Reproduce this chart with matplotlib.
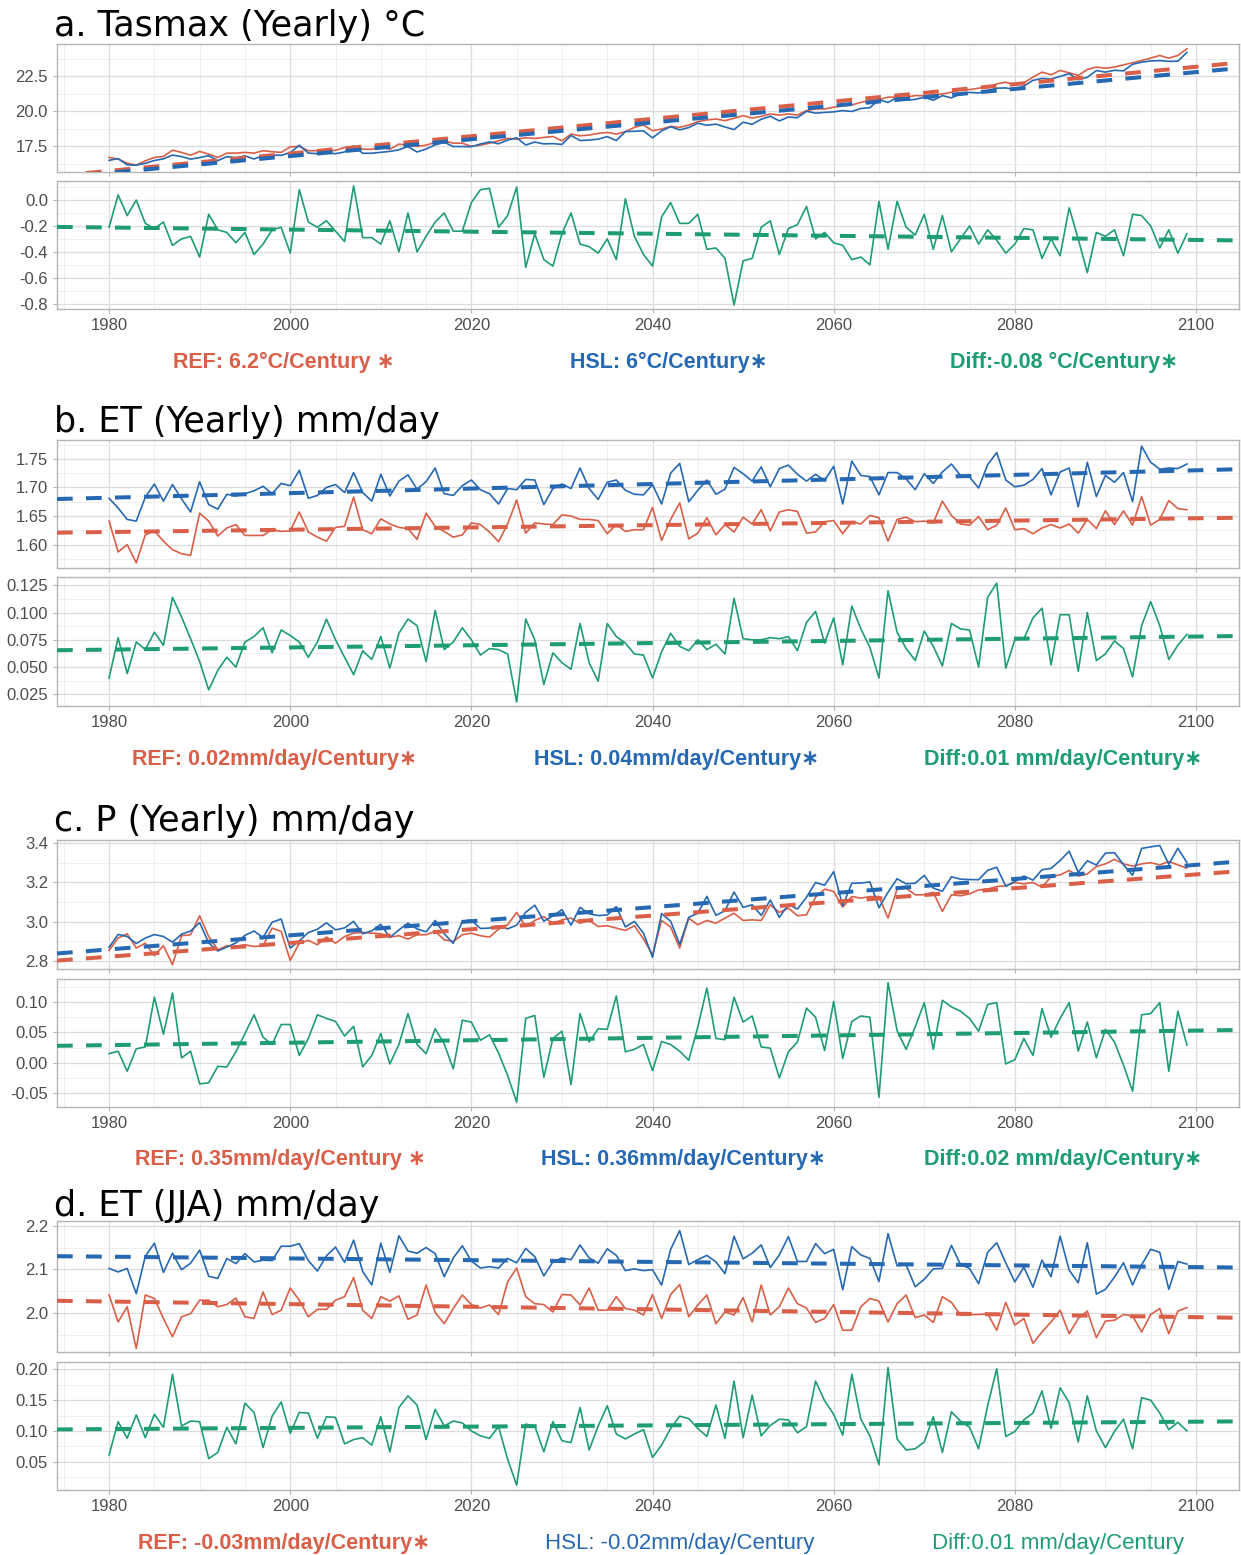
import numpy as np
import matplotlib
matplotlib.use("Agg")
import matplotlib.pyplot as plt
from matplotlib.ticker import FuncFormatter

plt.rcParams['axes.unicode_minus'] = False
plt.rcParams['font.family'] = ['Liberation Sans', 'DejaVu Sans']

YEARS = np.arange(1980, 2100)

# ---- a. Tasmax (yearly), degC ----
TAS_REF = [
    16.69, 16.57, 16.28, 16.14, 16.45, 16.69, 16.76, 17.21, 17.05, 16.85,
    17.12, 16.93, 16.69, 17.00, 17.00, 17.05, 17.00, 17.17, 17.10, 17.05,
    17.45, 17.48, 17.17, 17.17, 17.17, 17.20, 17.40, 17.40, 17.28, 17.28,
    17.40, 17.28, 17.64, 17.57, 17.48, 17.57, 17.76, 17.88, 17.71, 17.71,
    17.48, 17.57, 17.71, 17.88, 18.05, 18.00, 18.10, 18.05, 18.12, 18.19,
    17.88, 18.36, 18.24, 18.29, 18.41, 18.48, 18.36, 18.53, 18.84, 19.01,
    18.60, 18.72, 18.91, 18.84, 19.01, 19.25, 19.37, 19.44, 19.32, 19.49,
    19.68, 19.51, 19.63, 19.80, 19.72, 19.80, 19.72, 20.04, 20.16, 20.16,
    20.28, 20.39, 20.44, 20.63, 20.75, 20.83, 21.00, 21.00, 21.00, 21.11,
    21.11, 21.16, 21.23, 21.35, 21.54, 21.54, 21.64, 21.71, 21.95, 22.07,
    21.88, 22.02, 22.43, 22.79, 22.60, 22.91, 22.74, 22.55, 22.98, 23.15,
    23.07, 23.15, 23.31, 23.46, 23.62, 23.79, 23.98, 23.79, 23.98, 24.46,
]
TAS_DIFF = [
    -0.21, 0.04, -0.12, 0.00, -0.18, -0.22, -0.17, -0.35, -0.30, -0.28,
    -0.44, -0.11, -0.23, -0.25, -0.33, -0.25, -0.42, -0.34, -0.23, -0.21,
    -0.41, 0.08, -0.17, -0.21, -0.16, -0.24, -0.32, 0.11, -0.29, -0.29,
    -0.34, -0.16, -0.40, -0.10, -0.40, -0.28, -0.17, -0.10, -0.24, -0.24,
    -0.02, 0.08, 0.09, -0.21, -0.12, 0.10, -0.52, -0.26, -0.46, -0.51,
    -0.26, -0.10, -0.34, -0.36, -0.41, -0.30, -0.46, 0.01, -0.28, -0.42,
    -0.51, -0.13, -0.02, -0.18, -0.18, -0.11, -0.38, -0.37, -0.45, -0.81,
    -0.47, -0.45, -0.21, -0.16, -0.42, -0.22, -0.19, -0.05, -0.30, -0.25,
    -0.33, -0.35, -0.46, -0.44, -0.50, -0.01, -0.38, -0.01, -0.21, -0.27,
    -0.11, -0.38, -0.12, -0.40, -0.30, -0.20, -0.34, -0.23, -0.31, -0.41,
    -0.34, -0.22, -0.23, -0.45, -0.30, -0.43, -0.06, -0.30, -0.56, -0.25,
    -0.28, -0.23, -0.43, -0.11, -0.12, -0.20, -0.37, -0.23, -0.41, -0.26,
]
TAS_SLOPE = [6.2, 6.0, -0.08]          # per century: REF, HSL, Diff
TAS_LEVEL_2040 = [19.45, 19.19, -0.26]  # trend value in 2040
TAS_SIGNIF = [True, True, True]

# ---- b. ET (yearly), mm/day ----
ET_REF = [
    1.641, 1.587, 1.600, 1.568, 1.617, 1.624, 1.606, 1.591, 1.584, 1.581,
    1.655, 1.641, 1.615, 1.629, 1.635, 1.616, 1.616, 1.616, 1.626, 1.623,
    1.624, 1.657, 1.622, 1.613, 1.606, 1.630, 1.632, 1.683, 1.626, 1.619,
    1.645, 1.636, 1.630, 1.628, 1.609, 1.655, 1.632, 1.623, 1.613, 1.617,
    1.638, 1.635, 1.622, 1.605, 1.636, 1.678, 1.620, 1.638, 1.636, 1.635,
    1.652, 1.650, 1.644, 1.644, 1.642, 1.619, 1.635, 1.623, 1.626, 1.626,
    1.665, 1.607, 1.644, 1.673, 1.610, 1.620, 1.647, 1.617, 1.635, 1.622,
    1.648, 1.636, 1.661, 1.624, 1.657, 1.661, 1.658, 1.620, 1.622, 1.640,
    1.642, 1.619, 1.640, 1.636, 1.651, 1.647, 1.606, 1.644, 1.648, 1.640,
    1.641, 1.638, 1.676, 1.651, 1.636, 1.634, 1.649, 1.626, 1.634, 1.664,
    1.626, 1.628, 1.619, 1.629, 1.635, 1.629, 1.636, 1.620, 1.644, 1.628,
    1.659, 1.635, 1.659, 1.634, 1.684, 1.634, 1.644, 1.677, 1.663, 1.661,
]
ET_DIFF = [
    0.040, 0.077, 0.044, 0.073, 0.066, 0.082, 0.070, 0.114, 0.096, 0.076,
    0.055, 0.029, 0.047, 0.059, 0.050, 0.073, 0.078, 0.086, 0.063, 0.084,
    0.079, 0.073, 0.059, 0.073, 0.094, 0.075, 0.059, 0.043, 0.065, 0.057,
    0.078, 0.049, 0.081, 0.094, 0.088, 0.055, 0.102, 0.066, 0.073, 0.086,
    0.075, 0.061, 0.067, 0.066, 0.062, 0.018, 0.094, 0.075, 0.034, 0.063,
    0.054, 0.048, 0.090, 0.054, 0.037, 0.090, 0.078, 0.072, 0.062, 0.061,
    0.040, 0.064, 0.081, 0.069, 0.065, 0.075, 0.066, 0.071, 0.062, 0.113,
    0.076, 0.075, 0.075, 0.077, 0.076, 0.078, 0.065, 0.091, 0.101, 0.072,
    0.095, 0.052, 0.106, 0.085, 0.068, 0.040, 0.120, 0.082, 0.067, 0.056,
    0.083, 0.069, 0.051, 0.090, 0.085, 0.084, 0.050, 0.114, 0.127, 0.049,
    0.075, 0.076, 0.095, 0.104, 0.052, 0.098, 0.098, 0.046, 0.100, 0.056,
    0.062, 0.074, 0.067, 0.041, 0.088, 0.110, 0.088, 0.057, 0.070, 0.080,
]
ET_SLOPE = [0.02, 0.04, 0.01]
ET_LEVEL_2040 = [1.634, 1.706, 0.072]
ET_SIGNIF = [True, True, True]

# ---- c. P (yearly), mm/day ----
P_REF = [
    2.853, 2.916, 2.938, 2.865, 2.890, 2.826, 2.877, 2.780, 2.928, 2.933,
    3.030, 2.924, 2.856, 2.877, 2.873, 2.882, 2.873, 2.877, 2.967, 2.950,
    2.802, 2.890, 2.904, 2.882, 2.921, 2.890, 2.924, 2.941, 2.945, 2.941,
    2.938, 2.921, 2.928, 2.911, 2.933, 2.933, 2.950, 2.907, 2.899, 2.933,
    2.941, 2.928, 2.921, 2.962, 2.984, 3.047, 2.975, 3.006, 3.026, 2.989,
    3.009, 3.018, 2.992, 3.006, 2.975, 2.979, 2.967, 2.955, 2.979, 2.911,
    2.831, 3.006, 2.972, 2.865, 3.018, 2.984, 3.006, 2.992, 3.018, 3.043,
    3.006, 3.009, 3.006, 3.086, 3.047, 3.069, 3.030, 3.035, 3.125, 3.166,
    3.154, 3.074, 3.128, 3.120, 3.128, 3.128, 3.018, 3.166, 3.171, 3.137,
    3.137, 3.149, 3.052, 3.137, 3.132, 3.142, 3.162, 3.166, 3.179, 3.183,
    3.200, 3.193, 3.200, 3.176, 3.230, 3.239, 3.261, 3.233, 3.244, 3.281,
    3.295, 3.318, 3.295, 3.284, 3.295, 3.301, 3.290, 3.307, 3.290, 3.273,
]
P_DIFF = [
    0.015, 0.019, -0.014, 0.023, 0.026, 0.108, 0.047, 0.115, 0.008, 0.019,
    -0.035, -0.033, -0.006, -0.007, 0.018, 0.048, 0.079, 0.042, 0.030, 0.063,
    0.063, 0.012, 0.040, 0.079, 0.073, 0.068, 0.044, 0.060, -0.007, 0.012,
    0.048, -0.002, 0.030, 0.081, 0.030, 0.015, 0.056, 0.031, -0.010, 0.070,
    0.067, 0.037, 0.046, 0.016, -0.021, -0.065, 0.073, 0.078, -0.024, 0.040,
    0.052, -0.036, 0.081, 0.034, 0.056, 0.055, 0.110, 0.018, 0.022, 0.030,
    -0.013, 0.035, 0.030, 0.019, 0.004, 0.059, 0.123, 0.040, 0.038, 0.108,
    0.067, 0.077, 0.026, 0.024, -0.025, 0.018, 0.034, 0.090, 0.075, 0.020,
    0.101, 0.007, 0.068, 0.077, 0.075, -0.057, 0.132, 0.053, 0.022, 0.059,
    0.099, 0.022, 0.103, 0.092, 0.085, 0.073, 0.052, 0.096, 0.099, -0.002,
    0.005, 0.040, 0.012, 0.089, 0.042, 0.073, 0.099, 0.019, 0.067, 0.008,
    0.055, 0.034, -0.004, -0.047, 0.079, 0.081, 0.099, -0.014, 0.085, 0.029,
]
P_SLOPE = [0.35, 0.36, 0.02]
P_LEVEL_2040 = [3.031, 3.074, 0.041]
P_SIGNIF = [True, True, True]

# ---- d. ET (JJA), mm/day ----
JJA_REF = [
    2.041, 1.979, 2.014, 1.918, 2.041, 2.033, 1.987, 1.945, 1.991, 1.998,
    2.029, 2.029, 2.014, 2.019, 2.034, 1.991, 1.987, 2.048, 1.996, 2.006,
    2.057, 2.029, 1.991, 2.008, 2.008, 2.029, 2.037, 2.081, 2.006, 1.987,
    2.037, 2.027, 2.039, 1.985, 1.995, 2.064, 2.001, 1.975, 2.010, 2.041,
    2.019, 2.011, 2.018, 1.996, 2.071, 2.103, 2.037, 2.021, 2.019, 2.002,
    2.042, 2.041, 2.018, 2.057, 2.006, 2.006, 2.037, 2.010, 2.006, 1.995,
    2.042, 1.987, 2.042, 2.065, 1.991, 2.018, 2.041, 1.975, 2.002, 1.995,
    2.035, 1.979, 2.064, 1.995, 2.014, 2.057, 2.021, 2.011, 1.978, 1.987,
    2.019, 1.960, 1.960, 2.014, 2.033, 2.027, 1.979, 2.021, 2.041, 1.989,
    1.995, 1.978, 2.037, 2.024, 1.995, 1.996, 1.996, 1.998, 1.960, 2.024,
    1.972, 1.987, 1.930, 1.956, 1.979, 2.006, 1.952, 1.987, 2.004, 1.943,
    1.981, 1.983, 1.996, 1.993, 1.956, 1.996, 2.010, 1.952, 2.004, 2.012,
]
JJA_DIFF = [
    0.061, 0.115, 0.088, 0.126, 0.089, 0.127, 0.106, 0.192, 0.108, 0.116,
    0.115, 0.055, 0.065, 0.106, 0.079, 0.145, 0.130, 0.073, 0.124, 0.147,
    0.096, 0.130, 0.129, 0.088, 0.123, 0.122, 0.079, 0.086, 0.089, 0.077,
    0.123, 0.066, 0.138, 0.157, 0.142, 0.086, 0.135, 0.108, 0.116, 0.113,
    0.100, 0.092, 0.088, 0.107, 0.054, 0.012, 0.111, 0.108, 0.066, 0.115,
    0.084, 0.081, 0.138, 0.069, 0.108, 0.141, 0.095, 0.087, 0.095, 0.102,
    0.057, 0.077, 0.104, 0.124, 0.120, 0.104, 0.091, 0.142, 0.088, 0.181,
    0.089, 0.158, 0.092, 0.109, 0.119, 0.118, 0.097, 0.107, 0.181, 0.149,
    0.127, 0.093, 0.192, 0.119, 0.092, 0.045, 0.203, 0.087, 0.069, 0.071,
    0.082, 0.123, 0.065, 0.131, 0.116, 0.106, 0.071, 0.141, 0.201, 0.091,
    0.099, 0.118, 0.129, 0.165, 0.104, 0.170, 0.146, 0.082, 0.157, 0.100,
    0.073, 0.099, 0.119, 0.071, 0.154, 0.150, 0.129, 0.102, 0.114, 0.100,
]
JJA_SLOPE = [-0.03, -0.02, 0.01]
JJA_LEVEL_2040 = [2.008, 2.117, 0.109]
JJA_SIGNIF = [True, False, False]

TITLES = ["a. Tasmax (Yearly) °C", "b. ET (Yearly) mm/day",
          "c. P (Yearly) mm/day", "d. ET (JJA) mm/day"]
UNITS = ["°C/Century", "mm/day/Century", "mm/day/Century", "mm/day/Century"]

# ---- figure layout (pixel geometry of a 1241 x 1555 canvas) ----
W, H = 1241, 1555
fig = plt.figure(figsize=(W / 100, H / 100), dpi=100)

C_REF, C_HSL, C_DIFF = '#DA5F48', '#2668B2', '#1E9C74'
XLIM = (1974.25, 2104.75)
XTICKS = list(range(1980, 2101, 20))
LEFT_PX, RIGHT_PX = 57, 1239


def rect(top, bottom):
    return [LEFT_PX / W, 1 - bottom / H, (RIGHT_PX - LEFT_PX) / W, (bottom - top) / H]


def style(ax, ylim, yticks, fmt, xlabels):
    ax.set_xlim(XLIM)
    ax.set_ylim(ylim)
    ax.set_xticks(XTICKS)
    ax.set_xticks(np.arange(1975, 2105, 5), minor=True)
    ax.set_yticks(yticks)
    step = yticks[1] - yticks[0]
    minor = np.arange(yticks[0] - step / 2, ylim[1], step)
    ax.set_yticks([m for m in minor if ylim[0] < m < ylim[1]], minor=True)
    ax.yaxis.set_major_formatter(FuncFormatter(lambda v, p: fmt.format(v)))
    ax.xaxis.set_major_formatter(FuncFormatter(lambda v, p: f"{v:.0f}"))
    ax.grid(which='major', color='#DCDCDC', lw=0.9)
    ax.grid(which='minor', color='#EDEDED', lw=0.6)
    ax.set_axisbelow(True)
    for sp in ax.spines.values():
        sp.set_color('#B5B5B5')
        sp.set_linewidth(1.0)
    ax.tick_params(which='major', length=3, width=0.8, color='#B5B5B5',
                   labelsize=12, labelcolor='#4D4D4D', pad=3.5)
    ax.tick_params(which='minor', length=0)
    if not xlabels:
        ax.tick_params(labelbottom=False)


def trend(ax, slope, level, color):
    x = np.array(XLIM)
    y = level + slope / 100.0 * (x - 2040)
    ax.plot(x, y, color=color, lw=2.9, dashes=(3.9, 3.3),
            dash_capstyle='butt', zorder=4)


PANELS = [
    dict(ref=TAS_REF, diff=TAS_DIFF, slope=TAS_SLOPE, level=TAS_LEVEL_2040,
         signif=TAS_SIGNIF, boxes=((44, 172), (181, 309)), title_y=36, lab_y=362,
         ylim_top=(15.65, 24.8), yt_top=[17.5, 20.0, 22.5], f_top="{:.1f}",
         ylim_bot=(-0.841, 0.147), yt_bot=[-0.8, -0.6, -0.4, -0.2, 0.0], f_bot="{:.1f}",
         lab_x=(284, 669, 1064), star_sep=(" ", "", "")),
    dict(ref=ET_REF, diff=ET_DIFF, slope=ET_SLOPE, level=ET_LEVEL_2040,
         signif=ET_SIGNIF, boxes=((440, 568), (577, 706)), title_y=432, lab_y=759,
         ylim_top=(1.559, 1.783), yt_top=[1.60, 1.65, 1.70, 1.75], f_top="{:.2f}",
         ylim_bot=(0.0143, 0.1326), yt_bot=[0.025, 0.050, 0.075, 0.100, 0.125], f_bot="{:.3f}",
         lab_x=(275, 677, 1063), star_sep=("", "", "")),
    dict(ref=P_REF, diff=P_DIFF, slope=P_SLOPE, level=P_LEVEL_2040,
         signif=P_SIGNIF, boxes=((840, 969), (979, 1107)), title_y=831, lab_y=1160,
         ylim_top=(2.758, 3.417), yt_top=[2.8, 3.0, 3.2, 3.4], f_top="{:.1f}",
         ylim_bot=(-0.073, 0.138), yt_bot=[-0.05, 0.00, 0.05, 0.10], f_bot="{:.2f}",
         lab_x=(280, 683, 1063), star_sep=(" ", "", "")),
    dict(ref=JJA_REF, diff=JJA_DIFF, slope=JJA_SLOPE, level=JJA_LEVEL_2040,
         signif=JJA_SIGNIF, boxes=((1221, 1352), (1362, 1490)), title_y=1216, lab_y=1543,
         ylim_top=(1.910, 2.211), yt_top=[2.0, 2.1, 2.2], f_top="{:.1f}",
         ylim_bot=(0.004, 0.212), yt_bot=[0.05, 0.10, 0.15, 0.20], f_bot="{:.2f}",
         lab_x=(284, 680, 1058), star_sep=("", "", "")),
]

for title, unit, p in zip(TITLES, UNITS, PANELS):
    ref = np.array(p['ref'])
    diff = np.array(p['diff'])
    hsl = ref + diff

    ax1 = fig.add_axes(rect(*p['boxes'][0]))
    ax1.plot(YEARS, ref, color=C_REF, lw=1.2, zorder=3)
    ax1.plot(YEARS, hsl, color=C_HSL, lw=1.2, zorder=3)
    trend(ax1, p['slope'][0], p['level'][0], C_REF)
    trend(ax1, p['slope'][1], p['level'][1], C_HSL)
    style(ax1, p['ylim_top'], p['yt_top'], p['f_top'], xlabels=False)

    ax2 = fig.add_axes(rect(*p['boxes'][1]))
    ax2.plot(YEARS, diff, color=C_DIFF, lw=1.2, zorder=3)
    trend(ax2, p['slope'][2], p['level'][2], C_DIFF)
    style(ax2, p['ylim_bot'], p['yt_bot'], p['f_bot'], xlabels=True)

    fig.text(54 / W, 1 - p['title_y'] / H, title, family='DejaVu Sans',
             fontsize=25.2, color='black', va='baseline', ha='left')

    names = ["REF: ", "HSL: ", "Diff:"]
    gaps = ["", "", " "]
    for i, (name, col) in enumerate(zip(names, (C_REF, C_HSL, C_DIFF))):
        txt = f"{name}{p['slope'][i]:g}{gaps[i]}{unit}"
        if p['signif'][i]:
            txt += p['star_sep'][i] + "\u2217"
        fig.text(p['lab_x'][i] / W, 1 - p['lab_y'] / H, txt, color=col,
                 fontsize=15.5 if p['signif'][i] else 16.0,
                 fontweight='bold' if p['signif'][i] else 'normal',
                 ha='center', va='center', family=['Liberation Sans', 'DejaVu Sans'])

fig.savefig("out.png", dpi=100)
